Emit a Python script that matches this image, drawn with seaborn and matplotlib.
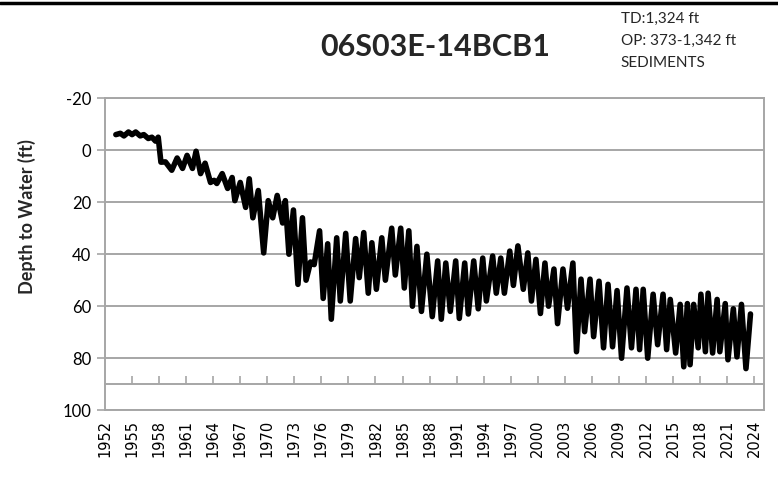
import numpy as np
import pandas as pd
import matplotlib
matplotlib.use("Agg")
import matplotlib.pyplot as plt
import seaborn as sns

# Well hydrograph: depth to water below land surface (ft), semi-annual readings
years = [
    1953.2, 1953.7, 1954.1, 1954.6, 1955.0, 1955.4, 1955.9, 1956.3, 1956.8, 1957.2,
    1957.6, 1957.9, 1958.2, 1958.7, 1959.4, 1960.0, 1960.6, 1961.1, 1961.7, 1962.1,
    1962.6, 1963.1, 1963.7, 1964.1, 1964.4, 1965.0, 1965.6, 1966.1, 1966.4, 1967.0,
    1967.6, 1968.0, 1968.4, 1969.0, 1969.6, 1970.1, 1970.6, 1971.1, 1971.7, 1972.0,
    1972.4, 1972.9, 1973.4, 1973.9, 1974.3, 1974.8, 1975.2, 1975.8, 1976.2, 1976.7,
    1977.1, 1977.7, 1978.1, 1978.7, 1979.2, 1979.8, 1980.2, 1980.7, 1981.2, 1981.6,
    1982.1, 1982.7, 1983.1, 1983.8, 1984.2, 1984.8, 1985.2, 1985.7, 1986.1, 1986.6,
    1987.1, 1987.7, 1988.3, 1988.9, 1989.3, 1989.8, 1990.3, 1990.9, 1991.3, 1991.9,
    1992.3, 1992.9, 1993.4, 1993.9, 1994.3, 1995.0, 1995.4, 1995.9, 1996.3, 1996.9,
    1997.3, 1997.8, 1998.4, 1998.9, 1999.3, 1999.8, 2000.3, 2000.8, 2001.2, 2001.8,
    2002.2, 2002.8, 2003.3, 2003.9, 2004.3, 2004.8, 2005.2, 2005.8, 2006.2, 2006.8,
    2007.3, 2007.8, 2008.3, 2008.8, 2009.3, 2009.9, 2010.4, 2010.9, 2011.3, 2011.7,
    2012.2, 2012.8, 2013.3, 2013.9, 2014.3, 2014.7, 2015.3, 2015.8, 2016.2, 2016.6,
    2016.9, 2017.3, 2017.8, 2018.1, 2018.6, 2018.9, 2019.4, 2019.9, 2020.2, 2020.8,
    2021.1, 2021.7, 2022.1, 2022.6, 2023.1, 2023.6,
]
depth_ft = [
    -6.0, -6.5, -5.5, -7.0, -6.0, -7.0, -5.5, -6.0, -4.5, -5.0,
    -3.5, -5.0, 4.6, 4.5, 7.7, 3.0, 7.0, 2.0, 7.0, 0.4,
    9.0, 5.0, 12.4, 11.6, 12.8, 9.0, 14.7, 10.5, 19.4, 12.4,
    22.0, 11.0, 26.0, 15.5, 39.5, 19.4, 26.0, 17.4, 28.0, 19.4,
    40.0, 23.0, 51.6, 26.0, 50.0, 43.0, 44.0, 31.0, 57.0, 36.0,
    65.0, 33.7, 58.0, 32.0, 58.0, 34.0, 49.0, 31.7, 55.0, 35.6,
    53.5, 33.7, 50.0, 30.0, 48.0, 30.0, 53.0, 31.0, 60.0, 37.0,
    62.0, 40.0, 64.0, 42.6, 65.0, 43.4, 62.0, 42.6, 64.7, 43.4,
    63.0, 42.6, 61.0, 41.5, 58.0, 40.7, 55.0, 41.5, 55.0, 38.8,
    52.0, 36.8, 53.5, 39.5, 58.0, 42.0, 62.8, 43.4, 60.0, 45.7,
    66.7, 45.7, 60.8, 43.4, 77.5, 49.6, 69.8, 49.6, 71.7, 50.4,
    76.0, 51.6, 75.6, 54.0, 80.0, 53.0, 76.0, 53.5, 76.7, 53.5,
    80.0, 55.4, 74.8, 55.4, 76.7, 57.4, 78.0, 59.3, 83.3, 59.0,
    82.5, 59.3, 76.0, 55.4, 77.5, 55.0, 78.0, 57.4, 77.5, 59.0,
    80.6, 61.0, 79.5, 59.3, 84.0, 63.0,
]
year_ticks = list(range(1952, 2025, 3))
depth_ticks = [-20, 0, 20, 40, 60, 80, 100]

title_text = "06S03E-14BCB1"
well_notes = ["TD:1,324 ft", "OP: 373-1,342 ft", "SEDIMENTS"]
y_label = "Depth to Water (ft)"

df = pd.DataFrame({"year": years, "depth": depth_ft})

sns.set_theme(style="white")
plt.rcParams["font.family"] = ["Lato", "DejaVu Sans"]

grid_gray = "#a6a6a6"

fig = plt.figure(figsize=(7.78, 4.96), dpi=100)
ax = fig.add_axes([0.135, 0.173, 0.847, 0.629])

sns.lineplot(data=df, x="year", y="depth", ax=ax, color="black",
             linewidth=4.0, solid_joinstyle="round", solid_capstyle="round")

ax.set_xlim(1952, 2025.1)
ax.set_ylim(100, -20)

ax.set_yticks(depth_ticks)
ax.set_yticklabels([str(v) for v in depth_ticks], fontsize=12)
ax.yaxis.grid(True, color=grid_gray, linewidth=1.4)
ax.xaxis.grid(False)
ax.tick_params(axis="y", which="both", left=True, length=6, width=1.2,
               color=grid_gray, pad=4, labelcolor="black")

ax.set_xticks(year_ticks)
ax.set_xticklabels([str(y) for y in year_ticks], rotation=90,
                   fontsize=10.5, family="DejaVu Sans")
ax.tick_params(axis="x", bottom=False, length=0, pad=7, labelcolor="black")

for s in ax.spines.values():
    s.set_color(grid_gray)
    s.set_linewidth(1.4)
    s.set_visible(True)

ax.set_xlabel("")
ax.set_ylabel(y_label, fontsize=13, fontweight="bold")
ax.yaxis.set_label_coords(-0.105, 0.62)

# Horizontal axis line crossing at 90 ft, with year tick marks
cross_frac = (100 - 90) / 120
sec = ax.secondary_xaxis(cross_frac)
sec.set_xticks(year_ticks[1:])
sec.tick_params(axis="x", direction="in", length=6, width=1.2,
                color=grid_gray, labelbottom=False, labeltop=False)
sec.spines["bottom"].set_color(grid_gray)
sec.spines["bottom"].set_linewidth(1.4)

fig.text(0.56, 0.905, title_text, ha="center", va="center",
         fontsize=22, fontweight="bold")
for i, line in enumerate(well_notes):
    fig.text(0.798, 0.962 - i * 0.045, line, ha="left", va="center", fontsize=11)

# Rule across the top of the sheet
fig.add_artist(plt.Line2D([0, 1], [0.994, 0.994], transform=fig.transFigure,
                          color="black", linewidth=2.5))

fig.savefig("out.png", dpi=100)
